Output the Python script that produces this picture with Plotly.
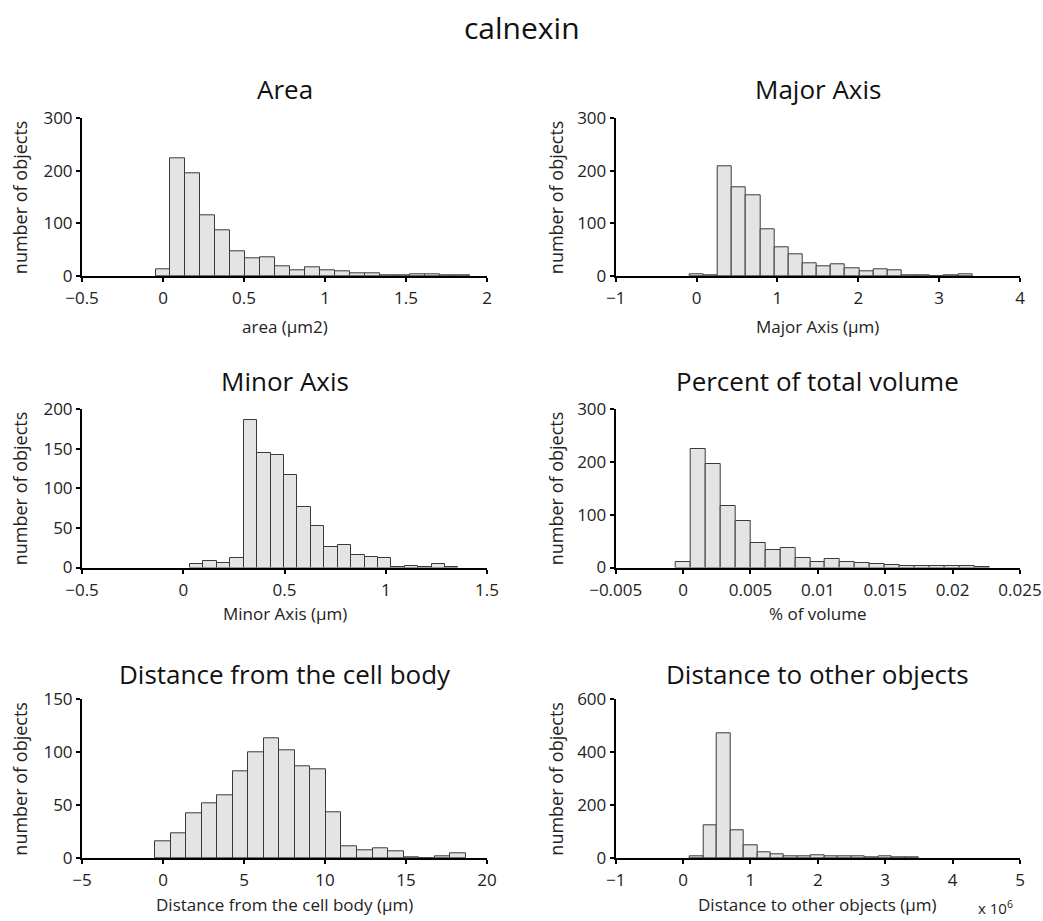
import plotly.graph_objects as go

# ---------------- data ----------------
area_centers = [0.0, 0.0925, 0.185, 0.2775, 0.37, 0.4625, 0.555, 0.6475, 0.74, 0.8325, 0.925,
                1.0175, 1.11, 1.2025, 1.295, 1.3875, 1.48, 1.5725, 1.665, 1.7575, 1.85]
area_counts = [12, 224, 195, 116, 87, 47, 34, 36, 18, 11, 16, 11, 8, 6, 5, 2, 2, 3, 3, 2, 1]
area_width = 0.0925

major_centers = [0.0, 0.175, 0.35, 0.525, 0.7, 0.875, 1.05, 1.225, 1.4, 1.575, 1.75,
                 1.925, 2.1, 2.275, 2.45, 2.625, 2.8, 2.975, 3.15, 3.325]
major_counts = [4, 2, 209, 169, 153, 89, 54, 41, 25, 19, 22, 14, 8, 13, 10, 1, 2, 0, 1, 3]
major_width = 0.175

minor_centers = [0.0663, 0.1326, 0.1989, 0.2652, 0.3315, 0.3978, 0.4641, 0.5304, 0.5967, 0.663,
                 0.7293, 0.7956, 0.8619, 0.9282, 0.9945, 1.0608, 1.1271, 1.1934, 1.2597, 1.326]
minor_counts = [5, 8, 6, 12, 186, 145, 142, 117, 76, 53, 26, 28, 16, 13, 12, 1, 2, 1, 4, 1]
minor_width = 0.0663

vol_centers = [0.0, 0.00111, 0.00222, 0.00333, 0.00444, 0.00555, 0.00666, 0.00777, 0.00888,
               0.00999, 0.0111, 0.01221, 0.01332, 0.01443, 0.01554, 0.01665, 0.01776, 0.01887,
               0.01998, 0.02109, 0.0222]
vol_counts = [11, 224, 195, 117, 88, 47, 34, 36, 18, 11, 16, 11, 8, 6, 4, 2, 2, 3, 3, 2, 1]
vol_width = 0.00111

cell_centers = [0.0, 0.958, 1.916, 2.874, 3.832, 4.79, 5.748, 6.706, 7.664, 8.622, 9.58,
                10.538, 11.496, 12.454, 13.412, 14.37, 15.328, 16.286, 17.244, 18.202]
cell_counts = [16, 23, 42, 52, 59, 82, 100, 113, 102, 87, 84, 43, 11, 7, 9, 6, 1, 0, 2, 4]
cell_width = 0.958

other_centers = [0.2, 0.4, 0.6, 0.8, 1.0, 1.2, 1.4, 1.6, 1.8, 2.0, 2.2, 2.4, 2.6, 2.8, 3.0, 3.2, 3.4]
other_counts = [6, 122, 470, 106, 48, 20, 14, 6, 6, 10, 5, 5, 7, 3, 7, 4, 2]
other_width = 0.2

panels = [
    dict(title="Area", xlabel="area (µm2)", centers=area_centers, counts=area_counts,
         width=area_width, xr=[-0.5, 2], xt=[-0.5, 0, 0.5, 1, 1.5, 2],
         xtl=["−0.5", "0", "0.5", "1", "1.5", "2"], yr=[0, 300], yt=[0, 100, 200, 300]),
    dict(title="Major Axis", xlabel="Major Axis (µm)", centers=major_centers, counts=major_counts,
         width=major_width, xr=[-1, 4], xt=[-1, 0, 1, 2, 3, 4],
         xtl=["−1", "0", "1", "2", "3", "4"], yr=[0, 300], yt=[0, 100, 200, 300]),
    dict(title="Minor Axis", xlabel="Minor Axis (µm)", centers=minor_centers, counts=minor_counts,
         width=minor_width, xr=[-0.5, 1.5], xt=[-0.5, 0, 0.5, 1, 1.5],
         xtl=["−0.5", "0", "0.5", "1", "1.5"], yr=[0, 200], yt=[0, 50, 100, 150, 200]),
    dict(title="Percent of total volume", xlabel="% of volume", centers=vol_centers, counts=vol_counts,
         width=vol_width, xr=[-0.005, 0.025], xt=[-0.005, 0, 0.005, 0.01, 0.015, 0.02, 0.025],
         xtl=["−0.005", "0", "0.005", "0.01", "0.015", "0.02", "0.025"], yr=[0, 300], yt=[0, 100, 200, 300]),
    dict(title="Distance from the cell body", xlabel="Distance from the cell body (µm)",
         centers=cell_centers, counts=cell_counts, width=cell_width, xr=[-5, 20],
         xt=[-5, 0, 5, 10, 15, 20], xtl=["−5", "0", "5", "10", "15", "20"],
         yr=[0, 150], yt=[0, 50, 100, 150]),
    dict(title="Distance to other objects", xlabel="Distance to other objects (µm)",
         centers=other_centers, counts=other_counts, width=other_width, xr=[-1, 5],
         xt=[-1, 0, 1, 2, 3, 4, 5], xtl=["−1", "0", "1", "2", "3", "4", "5"],
         yr=[0, 600], yt=[0, 200, 400, 600]),
]

W, H = 1043, 921
FONT = "Open Sans"
col_x = [(82, 487), (615.7, 1020)]
row_y = [(118.3, 276), (409, 567.5), (699.3, 858)]
title_y = [89, 381, 674]
xlab_y = [327, 613, 904]
ylab_x = [20, 556]

fig = go.Figure()
annotations = []
for i, p in enumerate(panels):
    r, c = divmod(i, 2)
    n = i + 1
    xa = "xaxis" if n == 1 else f"xaxis{n}"
    ya = "yaxis" if n == 1 else f"yaxis{n}"
    fig.add_trace(go.Bar(
        x=p["centers"], y=p["counts"], width=p["width"],
        marker=dict(color="#e4e4e4", line=dict(color="#3a3a3a", width=1)),
        xaxis="x" if n == 1 else f"x{n}", yaxis="y" if n == 1 else f"y{n}",
        showlegend=False, hoverinfo="x+y"))
    x0, x1 = col_x[c]
    y0, y1 = row_y[r]
    fig.layout[xa] = dict(
        domain=[x0 / W, x1 / W], range=p["xr"], tickvals=p["xt"], ticktext=p["xtl"],
        showline=True, linecolor="black", linewidth=2, ticks="outside", ticklen=4,
        tickcolor="black", tickwidth=1.5, showgrid=False, zeroline=False,
        anchor="y" if n == 1 else f"y{n}", automargin=False, ticklabelstandoff=2,
        tickfont=dict(family=FONT, size=17, color="#222"), fixedrange=True)
    fig.layout[ya] = dict(
        domain=[1 - y1 / H, 1 - y0 / H], range=p["yr"], tickvals=p["yt"],
        showline=True, linecolor="black", linewidth=2, ticks="outside", ticklen=4,
        tickcolor="black", tickwidth=1.5, showgrid=False, zeroline=False,
        anchor="x" if n == 1 else f"x{n}", automargin=False,
        tickfont=dict(family=FONT, size=17, color="#222"), fixedrange=True)
    xc = (x0 + x1) / 2
    annotations.append(dict(text=p["title"], x=xc / W, y=1 - title_y[r] / H, xref="paper",
                            yref="paper", showarrow=False, xanchor="center", yanchor="middle",
                            font=dict(family=FONT, size=26, color="#111")))
    annotations.append(dict(text=p["xlabel"], x=xc / W, y=1 - xlab_y[r] / H, xref="paper",
                            yref="paper", showarrow=False, xanchor="center", yanchor="middle",
                            font=dict(family=FONT, size=17, color="#222")))
    annotations.append(dict(text="number of objects", x=ylab_x[c] / W, y=1 - (y0 + y1) / 2 / H,
                            xref="paper", yref="paper", showarrow=False, textangle=-90,
                            xanchor="center", yanchor="middle",
                            font=dict(family=FONT, size=18, color="#222")))

annotations.append(dict(text="calnexin", x=0.5, y=1 - 27 / H, xref="paper", yref="paper",
                        showarrow=False, xanchor="center", yanchor="middle",
                        font=dict(family=FONT, size=30, color="#111")))
annotations.append(dict(text="x 10<sup>6</sup>", x=995 / W, y=1 - 907 / H, xref="paper",
                        yref="paper", showarrow=False, xanchor="center", yanchor="middle",
                        font=dict(family=FONT, size=15, color="#222")))

fig.update_layout(width=W, height=H, margin=dict(l=0, r=0, t=0, b=0, autoexpand=False),
                  paper_bgcolor="white", plot_bgcolor="white", bargap=0,
                  annotations=annotations)
fig.write_html("out.html", config={"displayModeBar": False},
               post_script="document.body.style.margin='0';document.body.style.overflow='hidden';")
